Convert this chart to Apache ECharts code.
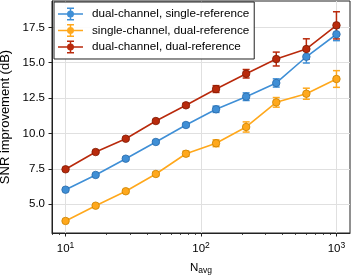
<!DOCTYPE html>
<html>
<head>
<meta charset="utf-8">
<script src="https://cdn.jsdelivr.net/npm/echarts@6/dist/echarts.min.js"></script>
<style>
html,body{margin:0;padding:0;background:#fff;}
#chart{width:352px;height:277px;}
</style>
</head>
<body>
<div id="chart"></div>
<script>
// N_avg values (log-spaced)
const nAvg = [10, 16.68, 27.83, 46.42, 77.43, 129.15, 215.44, 359.38, 599.48, 1000];

const seriesNames = [
  'dual-channel, single-reference',
  'single-channel, dual-reference',
  'dual-channel, dual-reference'
];

const dualSingle    = [6.03, 7.07, 8.22, 9.40, 10.60, 11.71, 12.60, 13.57, 15.42, 17.01];
const dualSingleErr = [0.08, 0.08, 0.10, 0.10, 0.12, 0.22, 0.27, 0.29, 0.44, 0.45];

const singleDual    = [3.82, 4.90, 5.92, 7.14, 8.57, 9.31, 10.46, 12.20, 12.81, 13.85];
const singleDualErr = [0.06, 0.08, 0.10, 0.12, 0.18, 0.24, 0.36, 0.34, 0.39, 0.59];

const dualDual      = [7.47, 8.69, 9.63, 10.88, 11.99, 13.14, 14.22, 15.26, 15.97, 17.64];
const dualDualErr   = [0.06, 0.08, 0.08, 0.10, 0.14, 0.24, 0.30, 0.49, 0.72, 0.96];

const yTicks = [5, 7.5, 10, 12.5, 15, 17.5];
const xMajorTicks = [10, 100, 1000];
const xMinorTicks = [8, 9, 20, 30, 40, 50, 60, 70, 80, 90, 200, 300, 400, 500, 600, 700, 800, 900];

const colors = ['#3f8fd6', '#ffa81c', '#b92a0c'];
const edgeColors = ['#2a6aa8', '#c98200', '#7e1a04'];

const FONT = '"Liberation Sans", Arial, sans-serif';

const values = [dualSingle, singleDual, dualDual];
const errs = [dualSingleErr, singleDualErr, dualDualErr];

const legendIcon = 'path://M0 5.75h25v1.5h-25Z M11.75 0h1.5v13h-1.5Z M9 0h7v1.5h-7Z M9 11.5h7v1.5h-7Z M16 6.5A3.5 3.5 0 1 1 9 6.5A3.5 3.5 0 1 1 16 6.5Z M29 6.5h0.01v0.01h-0.01Z';

const series = [];
values.forEach((vals, i) => {
  const c = colors[i];
  series.push({
    name: seriesNames[i] + ' err',
    type: 'custom',
    xAxisIndex: 0, yAxisIndex: 0,
    z: 2,
    silent: true,
    data: nAvg.map((x, k) => [x, vals[k] - errs[i][k], vals[k] + errs[i][k]]),
    encode: { x: 0, y: [1, 2] },
    renderItem: function (params, api) {
      const x = api.value(0), lo = api.value(1), hi = api.value(2);
      const p1 = api.coord([x, hi]);
      const p2 = api.coord([x, lo]);
      const hw = 3.5;
      const st = { stroke: c, lineWidth: 1.5 };
      return {
        type: 'group',
        children: [
          { type: 'line', shape: { x1: p1[0], y1: p1[1], x2: p2[0], y2: p2[1] }, style: st },
          { type: 'line', shape: { x1: p1[0] - hw, y1: p1[1], x2: p1[0] + hw, y2: p1[1] }, style: st },
          { type: 'line', shape: { x1: p2[0] - hw, y1: p2[1], x2: p2[0] + hw, y2: p2[1] }, style: st }
        ]
      };
    }
  });
});
values.forEach((vals, i) => {
  series.push({
    name: seriesNames[i],
    type: 'line',
    xAxisIndex: 0, yAxisIndex: 0,
    z: 3,
    data: nAvg.map((x, k) => [x, vals[k]]),
    symbol: 'circle',
    symbolSize: 7.5,
    showSymbol: true,
    animation: false,
    lineStyle: { color: colors[i], width: 1.6 },
    itemStyle: { color: colors[i], borderColor: edgeColors[i], borderWidth: 0.8 }
  });
});

const chart = echarts.init(document.getElementById('chart'), null, { renderer: 'canvas' });
chart.setOption({
  animation: false,
  backgroundColor: '#ffffff',
  textStyle: { fontFamily: FONT },
  grid: {
    left: 52, right: 2, top: 1, bottom: 44,
    containLabel: false,
    outerBoundsMode: 'none',
    show: true, borderColor: '#222', borderWidth: 1, backgroundColor: 'transparent'
  },
  legend: {
    data: seriesNames.map((n, i) => ({
      name: n, icon: legendIcon,
      itemStyle: { color: colors[i], borderWidth: 0, borderColor: colors[i] }
    })),
    orient: 'vertical',
    left: 54, top: 2,
    itemWidth: 29, itemHeight: 13,
    itemGap: 3.5,
    padding: [5.5, 5, 5.5, 4],
    borderColor: '#222', borderWidth: 1, borderRadius: 0,
    backgroundColor: 'rgba(255,255,255,0.9)',
    selectedMode: false,
    textStyle: { fontSize: 11.7, color: '#000', fontFamily: FONT }
  },
  xAxis: [{
    type: 'log',
    logBase: 10,
    min: 7.943,
    max: 1259,
    name: '{n|N}{s|avg}',
    nameLocation: 'middle',
    nameGap: 28,
    nameTextStyle: {
      rich: {
        n: { fontSize: 11.5, color: '#000', fontFamily: FONT, lineHeight: 14 },
        s: { fontSize: 8.5, color: '#000', fontFamily: FONT, lineHeight: 10, verticalAlign: 'bottom' }
      }
    },
    axisLine: { show: true, lineStyle: { color: '#222', width: 1 } },
    axisTick: { show: true, length: 3.5, inside: false, customValues: xMajorTicks, lineStyle: { color: '#222', width: 1 } },
    axisLabel: {
      show: true,
      customValues: xMajorTicks,
      margin: 8,
      formatter: function (v) {
        const e = Math.round(Math.log10(v));
        return '{b|10}{s|' + e + '}';
      },
      rich: {
        b: { fontSize: 11.5, color: '#000', fontFamily: FONT, lineHeight: 15 },
        s: { fontSize: 8.5, color: '#000', fontFamily: FONT, verticalAlign: 'top', lineHeight: 10 }
      }
    },
    splitLine: { show: true, lineStyle: { color: '#e0e0e0', width: 1 } }
  }, {
    type: 'log',
    logBase: 10,
    min: 7.943,
    max: 1259,
    position: 'bottom',
    gridIndex: 0,
    axisLine: { show: false },
    axisTick: { show: true, length: 2, inside: false, customValues: xMinorTicks, lineStyle: { color: '#222', width: 0.8 } },
    axisLabel: { show: false },
    splitLine: { show: false }
  }],
  yAxis: {
    type: 'value',
    min: 2.97,
    max: 19.36,
    name: 'SNR improvement (dB)',
    nameLocation: 'middle',
    nameGap: 39.5,
    nameTextStyle: { fontSize: 13, color: '#000', fontFamily: FONT },
    axisLine: { show: true, lineStyle: { color: '#222', width: 1 } },
    axisTick: { show: true, length: 3.5, inside: false, customValues: yTicks, lineStyle: { color: '#222', width: 1 } },
    axisLabel: {
      customValues: yTicks,
      margin: 7,
      fontSize: 11.5,
      color: '#000',
      fontFamily: FONT,
      formatter: function (v) { return v.toFixed(1); }
    },
    splitLine: { show: true, lineStyle: { color: '#e0e0e0', width: 1 } }
  },
  series: series
});
</script>
</body>
</html>
